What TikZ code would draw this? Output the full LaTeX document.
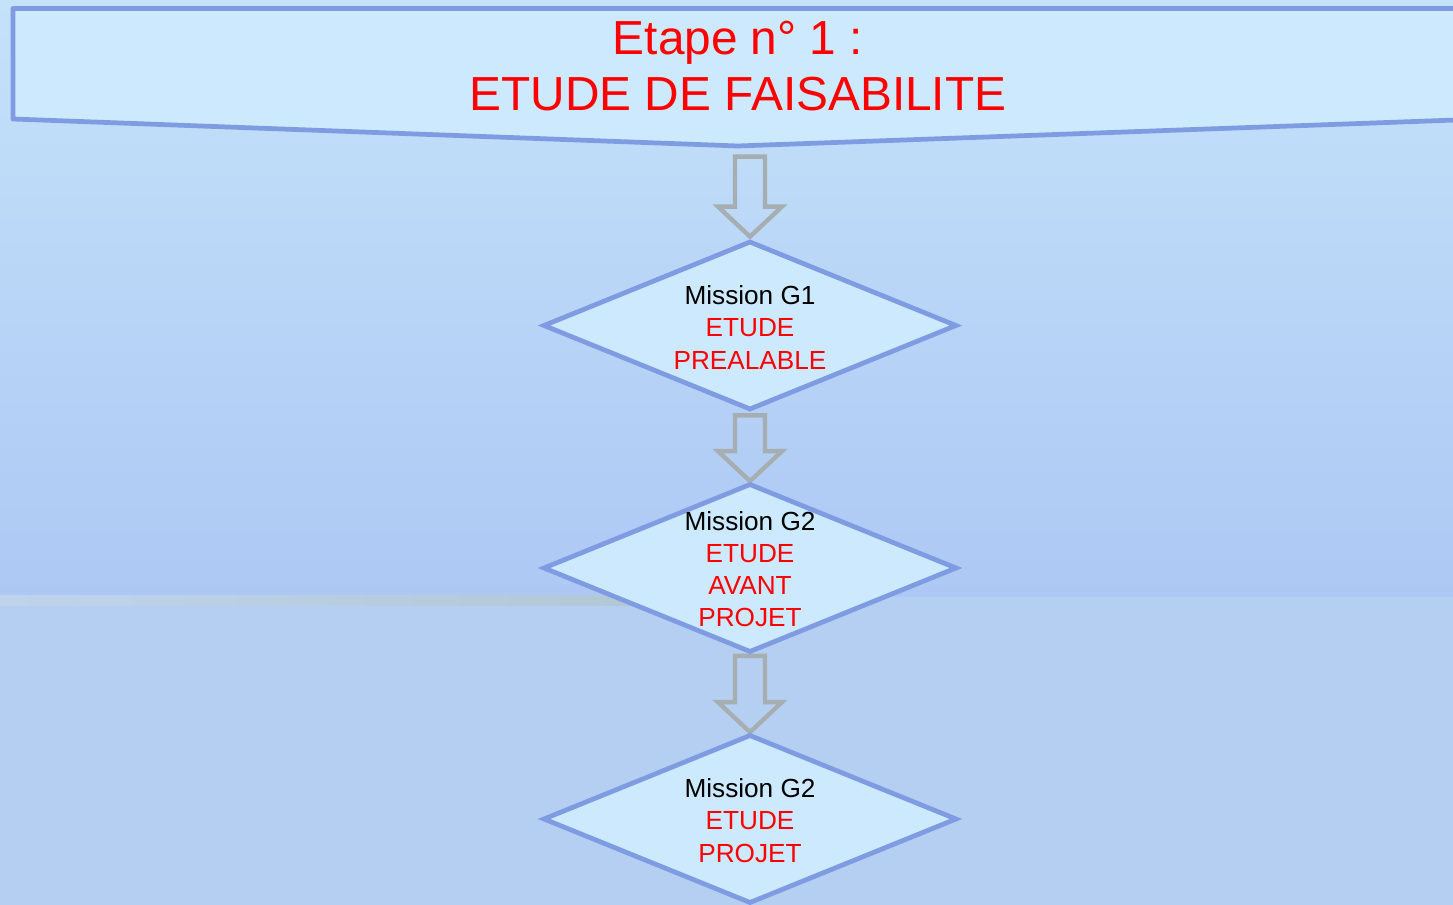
\documentclass[tikz,border=0pt]{standalone}
\usepackage{fontspec}
\setmainfont{Liberation Sans}
\usetikzlibrary{shapes.geometric,calc}
\definecolor{bgtop}{HTML}{C4E2FA}
\definecolor{bgmid}{HTML}{ADC8F4}
\definecolor{bglow}{HTML}{B5CFF2}
\definecolor{boxfill}{HTML}{CCE9FD}
\definecolor{boxline}{HTML}{7F9BE1}
\definecolor{arrgray}{HTML}{A7AEB2}
\definecolor{bandl}{HTML}{BFD4EC}
\definecolor{bandr}{HTML}{B2C8D6}
\definecolor{txtred}{HTML}{FF0000}
\newcommand{\blockarrow}[2]{%
  \draw[blockarr] ($(#1)+(-15,0)$) -- ($(#1)+(15,0)$) -- ($(#2)+(15,-30)$) -- ($(#2)+(32,-30)$) -- (#2) -- ($(#2)+(-32,-30)$) -- ($(#2)+(-15,-30)$) -- cycle;}
\begin{document}
\begin{tikzpicture}[x=0.02cm,y=-0.02cm,
  mdiam/.style={diamond, draw=boxline, fill=boxfill, line width=2.7pt, minimum width=8.28cm, minimum height=3.38cm, inner sep=0pt, shape aspect=2.45},
  dtext/.style={align=center, font=\fontsize{14.9}{18.3}\selectfont, inner sep=0pt},
  ttext/.style={align=center, text=txtred, font=\fontsize{27.2}{32.3}\selectfont, inner sep=0pt},
  blockarr/.style={draw=arrgray, line width=2.5pt, line join=miter},
  ]
\useasboundingbox (0,0) rectangle (1453,905);
\begin{scope}
\clip (0,0) rectangle (1453,905);
\shade[top color=bgtop, bottom color=bgmid] (0,0) rectangle (1453,597);
\fill[bglow] (0,597) rectangle (1453,905);
\shade[left color=bandl, right color=bandr] (0,595) rectangle (630,605);
\coordinate (hb) at (738,146);
\draw[line width=2.7pt, draw=boxline, fill=boxfill, line join=round] (13,8.5) -- (1470,8.5) -- (1470,119.5) -- (hb) -- (13,119) -- cycle;
\end{scope}
\node[ttext] (title) at (738,66) {Etape n° 1 :\\ETUDE DE FAISABILITE};
% diamonds (positions)
\path (750,325.5) coordinate (c1) (750,568) coordinate (c2) (750,819) coordinate (c3);
\path (c1) node[mdiam, draw=none, fill=none] (p1) {};
\path (c2) node[mdiam, draw=none, fill=none] (p2) {};
\path (c3) node[mdiam, draw=none, fill=none] (p3) {};
% arrows
\coordinate (a1s) at ($(p1.north)+(0,-82)$);
\coordinate (a1e) at ($(p1.north)+(0,-2)$);
\coordinate (a2s) at ($(p1.south)+(0,3)$);
\coordinate (a3s) at ($(p2.south)+(0,1)$);
\blockarrow{a1s}{a1e}
\blockarrow{a2s}{p2.north}
\blockarrow{a3s}{p3.north}
\node[mdiam] (d1) at (c1) {};
\node[mdiam] (d2) at (c2) {};
\node[mdiam] (d3) at (c3) {};
\node[dtext] (t1) at ($(d1.center)+(0,2)$) {Mission G1\\\textcolor{txtred}{ETUDE}\\\textcolor{txtred}{PREALABLE}};
\node[dtext] (t2) at ($(d2.center)+(0,1)$) {Mission G2\\\textcolor{txtred}{ETUDE}\\\textcolor{txtred}{AVANT}\\\textcolor{txtred}{PROJET}};
\node[dtext] (t3) at ($(d3.center)+(0,1.5)$) {Mission G2\\\textcolor{txtred}{ETUDE}\\\textcolor{txtred}{PROJET}};
\end{tikzpicture}
\end{document}
